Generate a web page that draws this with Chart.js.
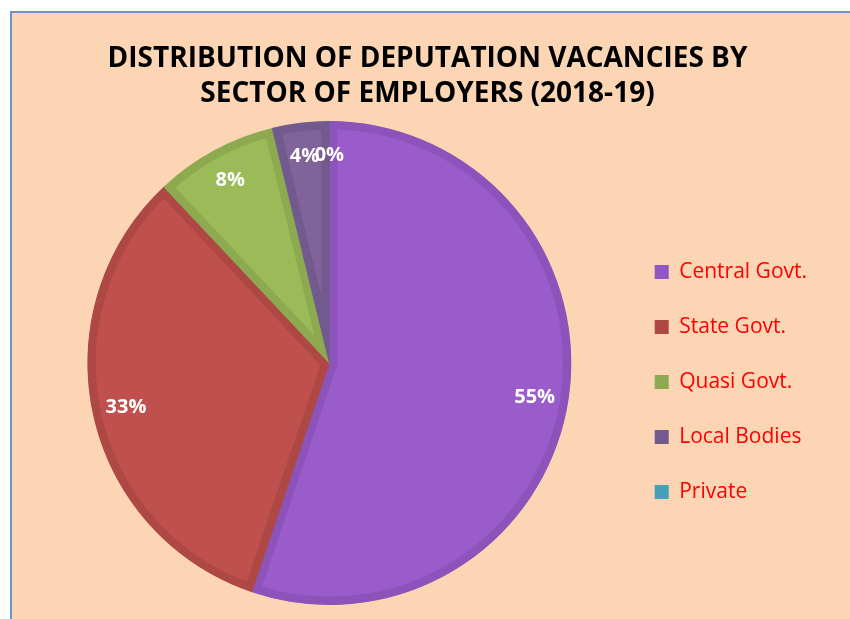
<!DOCTYPE html>
<html>
<head>
<meta charset="utf-8">
<script src="https://cdn.jsdelivr.net/npm/chart.js@4.4.0/dist/chart.umd.min.js"></script>
<style>
  html, body { margin: 0; padding: 0; background: #ffffff; overflow: hidden; }
  #box { position: absolute; left: 10px; top: 11px; width: 850px; height: 606px;
         border-left: 2px solid #6A93CF; border-top: 2px solid #6A93CF; background: #FCD5B5; }
  canvas { display: block; }
</style>
</head>
<body>
<div id="box"><canvas id="c" width="850" height="606"></canvas></div>
<script>
const categories = ["Central Govt.", "State Govt.", "Quasi Govt.", "Local Bodies", "Private"];
const shares = [55.2, 32.8, 8.2, 3.8, 0];
const percentLabels = ["55%", "33%", "8%", "4%", "0%"];
const titleLines = ["DISTRIBUTION OF DEPUTATION VACANCIES BY", "SECTOR OF EMPLOYERS (2018-19)"];

const fills = ["#9B5CCB", "#C0504D", "#9BBB59", "#7F6399", "#4BACC6"];
const borders = ["#8C53BA", "#AE4845", "#8DAA50", "#72598E", "#44A0B8"];
const legendColors = ["#9155C4", "#AE4845", "#8DAA50", "#72598E", "#44A0B8"];

const labelPlugin = {
  id: 'sliceLabels',
  afterDatasetsDraw(chart) {
    const ctx = chart.ctx;
    const meta = chart.getDatasetMeta(0);
    ctx.save();
    ctx.fillStyle = '#ffffff';
    ctx.font = 'bold 20px "Open Sans"';
    ctx.textAlign = 'center';
    ctx.textBaseline = 'middle';
    meta.data.forEach((arc, i) => {
      const p = arc.getProps(['x', 'y', 'startAngle', 'endAngle', 'outerRadius'], true);
      const mid = (p.startAngle + p.endAngle) / 2;
      const r = p.outerRadius * 0.86;
      const x = p.x + Math.cos(mid) * r;
      const y = p.y + Math.sin(mid) * r;
      ctx.fillText(percentLabels[i], x, y);
    });
    ctx.restore();
  }
};

new Chart(document.getElementById('c'), {
  type: 'pie',
  data: {
    labels: categories,
    datasets: [{
      data: shares,
      backgroundColor: fills,
      borderColor: borders,
      borderWidth: 8,
      borderAlign: 'inner'
    }]
  },
  options: {
    responsive: false,
    animation: false,
    layout: { padding: { left: 26, right: 45, top: 0, bottom: 14 } },
    plugins: {
      title: {
        display: true,
        text: titleLines,
        color: '#000000',
        font: { family: '"Open Sans"', size: 28, weight: 'bold', lineHeight: 1.27 },
        padding: { top: 28, bottom: 9 }
      },
      legend: {
        position: 'right',
        title: {
          display: true,
          text: ' ',
          font: { size: 10, lineHeight: 1.2 },
          padding: { top: 134, bottom: 0 }
        },
        labels: {
          color: '#FF0000',
          font: { family: '"Open Sans"', size: 21 },
          boxWidth: 14,
          boxHeight: 14,
          padding: 34,
          generateLabels(chart) {
            return categories.map((c, i) => ({
              text: c, fillStyle: legendColors[i], strokeStyle: legendColors[i],
              lineWidth: 0, hidden: false, index: i, fontColor: '#FF0000'
            }));
          }
        }
      },
      tooltip: { enabled: false }
    }
  },
  plugins: [labelPlugin]
});
</script>
</body>
</html>
